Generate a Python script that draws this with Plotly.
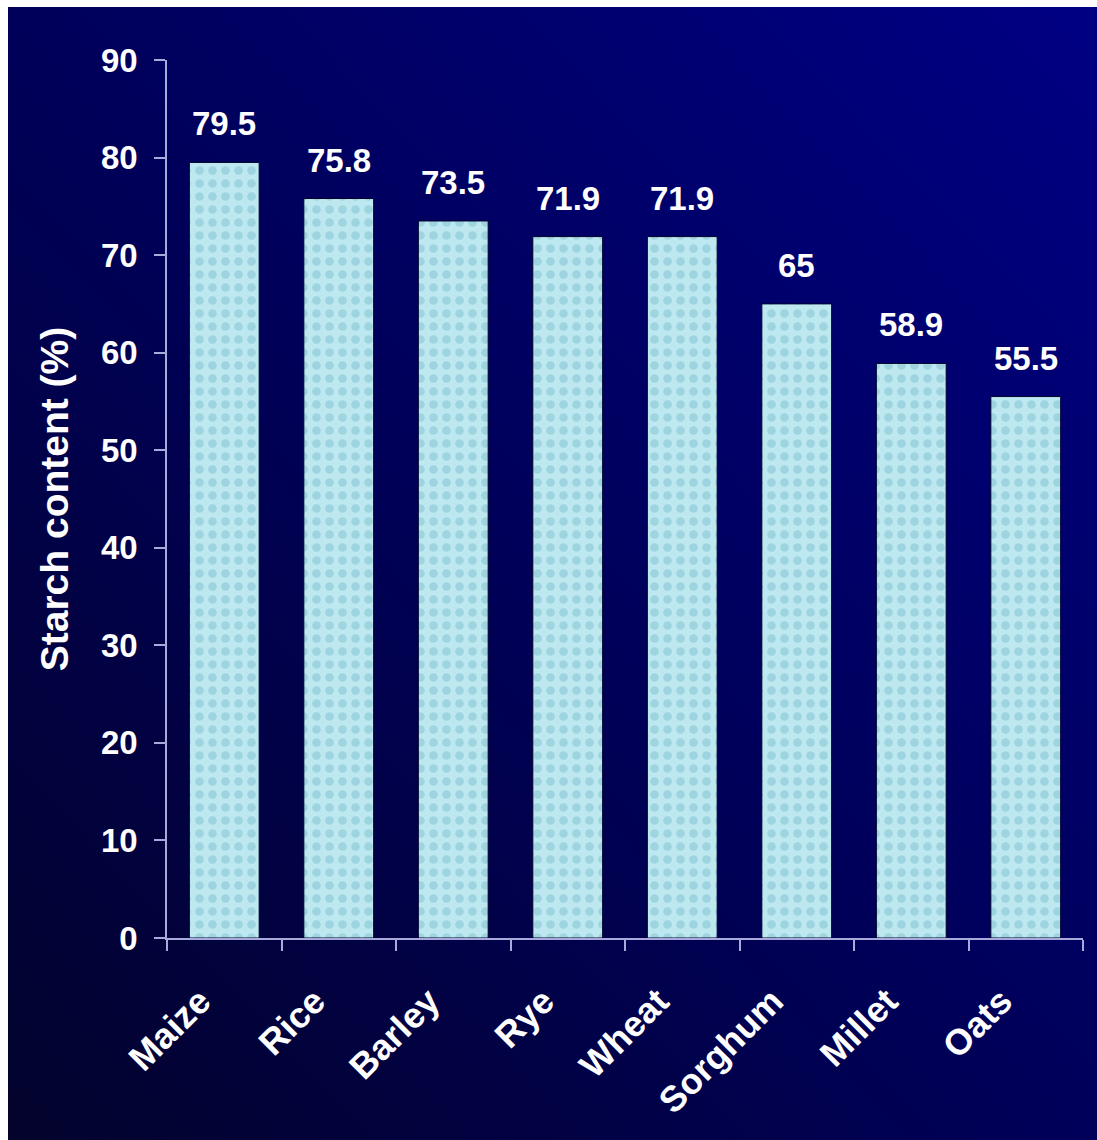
import plotly.graph_objects as go

# Starch content of cereal grains (%)
grains = ["Maize", "Rice", "Barley", "Rye", "Wheat", "Sorghum", "Millet", "Oats"]
starch = [79.5, 75.8, 73.5, 71.9, 71.9, 65, 58.9, 55.5]
y_ticks = [0, 10, 20, 30, 40, 50, 60, 70, 80, 90]

FONT = "Arial, 'Liberation Sans', sans-serif"

# Navy diagonal gradient used as the slide background
bg_svg = (
    "data:image/svg+xml;utf8,"
    "<svg xmlns='http://www.w3.org/2000/svg' width='1000' height='1000' preserveAspectRatio='none'>"
    "<defs><linearGradient id='g' x1='0' y1='1' x2='1' y2='0'>"
    "<stop offset='0' stop-color='%2303032c'/>"
    "<stop offset='0.5' stop-color='%2300005a'/>"
    "<stop offset='1' stop-color='%23000084'/>"
    "</linearGradient></defs>"
    "<rect width='1000' height='1000' fill='url(%23g)'/></svg>"
)

W, H = 1097, 1140
L, R, T, B = 167, 14, 60, 202
pw, ph = W - L - R, H - T - B

fig = go.Figure()
fig.add_trace(go.Bar(
    x=grains,
    y=starch,
    marker=dict(
        color="#bde8f0",
        line=dict(color="#00002a", width=1),
        pattern=dict(shape=".", fgcolor="#7fbfcf", bgcolor="#bde8f0",
                     size=13, solidity=0.35, fgopacity=0.5),
    ),
    hoverinfo="skip",
))

# value labels above each bar
for g, v in zip(grains, starch):
    fig.add_annotation(
        x=g, y=v, text=f"{v:g}", showarrow=False,
        yanchor="bottom", yshift=18,
        font=dict(family=FONT, size=33, color="white", weight="bold"),
    )

axis_col = "#a9a9dc"
fig.update_layout(
    width=W, height=H,
    margin=dict(l=L, r=R, t=T, b=B, pad=0),
    paper_bgcolor="white",
    plot_bgcolor="rgba(0,0,0,0)",
    showlegend=False,
    bargap=0.39,
    images=[dict(
        source=bg_svg, xref="paper", yref="paper",
        x=(8 - L) / pw, y=(T + ph - 7) / ph,
        sizex=(W - 8) / pw, sizey=(H - 7) / ph,
        xanchor="left", yanchor="top", sizing="stretch", layer="below",
    )],
    xaxis=dict(
        type="category",
        tickson="boundaries",
        ticks="outside", ticklen=11, tickwidth=1.5, tickcolor=axis_col,
        showline=True, linecolor=axis_col, linewidth=1.5,
        showgrid=False, zeroline=False,
        tickangle=-45,
        ticklabelstandoff=26,
        ticklabelshift=-24,
        tickfont=dict(family=FONT, size=36, color="white", weight="bold"),
    ),
    yaxis=dict(
        range=[0, 90],
        tickvals=y_ticks,
        ticks="outside", ticklen=11, tickwidth=1.5, tickcolor=axis_col,
        showline=True, linecolor=axis_col, linewidth=1.5,
        showgrid=False, zeroline=False,
        ticklabelstandoff=10,
        tickfont=dict(family=FONT, size=33, color="white", weight="bold"),
        title=dict(text="Starch content (%)", standoff=20,
                   font=dict(family=FONT, size=39, color="white", weight="bold")),
    ),
)

fig.write_html("out.html")
